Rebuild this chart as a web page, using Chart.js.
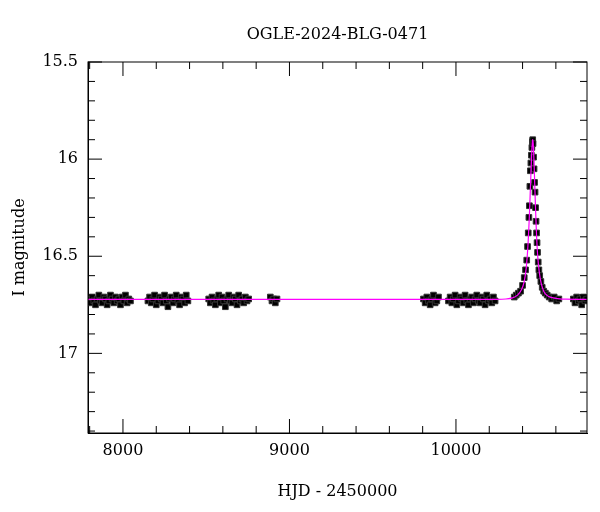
<!DOCTYPE html>
<html>
<head>
<meta charset="utf-8">
<script src="https://cdn.jsdelivr.net/npm/chart.js@4"></script>
<style>
  body { margin: 0; background: #fff; }
  #wrap { width: 600px; height: 512px; }
</style>
</head>
<body>
<div id="wrap"><canvas id="chart"></canvas></div>
<script>
const TITLE = "OGLE-2024-BLG-0471";

// observations: HJD - 2450000 and I magnitude
const obsTime = [
  7795, 7805, 7815, 7825, 7835, 7845, 7855, 7865, 7875, 7885, 7895, 7905, 7915, 7925, 7935, 7945, 7955, 7965, 7975, 7985, 7995, 8005, 8015, 8025, 8035, 8045,
  8150, 8160, 8170, 8180, 8190, 8200, 8210, 8220, 8230, 8240, 8250, 8260, 8270, 8280, 8290, 8300, 8310, 8320, 8330, 8340, 8350, 8360, 8370, 8380, 8390,
  8515, 8525, 8535, 8545, 8555, 8565, 8575, 8585, 8595, 8605, 8615, 8625, 8635, 8645, 8655, 8665, 8675, 8685, 8695, 8705, 8715, 8725, 8735, 8745, 8755,
  8885, 8895, 8905, 8915, 8925,
  9805, 9815, 9825, 9835, 9845, 9855, 9865, 9875, 9885, 9895,
  9955, 9965, 9975, 9985, 9995, 10005, 10015, 10025, 10035, 10045, 10055, 10065, 10075, 10085, 10095, 10105, 10115, 10125, 10135, 10145, 10155, 10165, 10175, 10185, 10195, 10205, 10215, 10225, 10235,
  10350, 10362, 10375, 10388, 10400, 10410, 10418, 10425, 10430, 10434, 10438, 10441, 10444, 10447, 10450, 10453, 10456, 10459, 10461, 10463, 10466, 10469, 10472, 10475, 10478, 10481, 10484, 10487, 10490, 10494, 10498, 10503, 10510, 10518, 10527, 10537, 10548, 10560, 10575, 10590, 10605, 10618,
  10705, 10715, 10725, 10735, 10745, 10755, 10765, 10775, 10785
];
const obsMag = [
  16.72, 16.74, 16.71, 16.73, 16.75, 16.72, 16.70, 16.73, 16.74, 16.71, 16.72, 16.75, 16.73, 16.70, 16.72, 16.74, 16.71, 16.73, 16.72, 16.75, 16.71, 16.73, 16.70, 16.74, 16.72, 16.73,
  16.73, 16.71, 16.74, 16.72, 16.70, 16.75, 16.73, 16.71, 16.72, 16.74, 16.70, 16.73, 16.76, 16.72, 16.71, 16.74, 16.72, 16.70, 16.73, 16.75, 16.71, 16.72, 16.74, 16.70, 16.73,
  16.72, 16.74, 16.71, 16.73, 16.75, 16.72, 16.70, 16.74, 16.71, 16.73, 16.76, 16.72, 16.70, 16.73, 16.74, 16.71, 16.72, 16.75, 16.70, 16.73, 16.72, 16.74, 16.71, 16.73, 16.72,
  16.71, 16.73, 16.72, 16.74, 16.72,
  16.72, 16.74, 16.71, 16.73, 16.75, 16.72, 16.70, 16.74, 16.73, 16.71,
  16.73, 16.71, 16.74, 16.72, 16.70, 16.75, 16.73, 16.71, 16.72, 16.74, 16.70, 16.73, 16.75, 16.72, 16.71, 16.74, 16.72, 16.70, 16.73, 16.74, 16.71, 16.72, 16.75, 16.70, 16.73, 16.72, 16.74, 16.71, 16.73,
  16.71, 16.70, 16.69, 16.68, 16.65, 16.61, 16.57, 16.52, 16.45, 16.38, 16.30, 16.24, 16.14, 16.06, 16.02, 15.98, 15.94, 15.91, 15.90, 15.92, 15.99, 16.05, 16.12, 16.17, 16.25, 16.32, 16.38, 16.43, 16.48, 16.53, 16.57, 16.60, 16.63, 16.66, 16.68, 16.69, 16.70, 16.71, 16.72, 16.71, 16.73, 16.72,
  16.72, 16.74, 16.71, 16.73, 16.72, 16.75, 16.71, 16.73, 16.72
];

// fitted model curve
const modelTime = [7790, 10250, 10300, 10340, 10370, 10395, 10410, 10422, 10432, 10440, 10447, 10453, 10458, 10461, 10464, 10469, 10475, 10482, 10490, 10500, 10512, 10527, 10545, 10570, 10610, 10660, 10787];
const modelMag = [16.722, 16.722, 16.720, 16.714, 16.70, 16.67, 16.63, 16.56, 16.45, 16.31, 16.15, 16.01, 15.92, 15.90, 15.92, 16.02, 16.18, 16.35, 16.49, 16.58, 16.64, 16.68, 16.70, 16.712, 16.718, 16.721, 16.722];

const xMajor = [8000, 9000, 10000];
const yMajor = [15.5, 16, 16.5, 17];

const SERIF = "'DejaVu Serif', 'Liberation Serif', serif";

function onLoad() {
  const ctx = document.getElementById("chart");
  new Chart(ctx, {
    type: "scatter",
    data: {
      datasets: [{
        type: "line",
        data: modelTime.map((t, i) => ({x: t, y: modelMag[i]})),
        borderColor: "#ff00ff",
        borderWidth: 1.2,
        pointRadius: 0,
        tension: 0.3,
        order: 1
      }, {
        data: obsTime.map((t, i) => ({x: t, y: obsMag[i]})),
        pointStyle: "rect",
        pointRadius: 4,
        backgroundColor: "#000",
        borderColor: "#333",
        borderWidth: 1,
        order: 2
      }]
    },
    plugins: [frameTicks],
    options: {
      responsive: false,
      animation: false,
      layout: {padding: {top: 62, right: 13, left: 0, bottom: 0}},
      plugins: {legend: {display: false}, tooltip: {enabled: false}},
      scales: {
        x: {
          type: "linear", min: 7790, max: 10787,
          afterBuildTicks: s => { s.ticks = []; for (let v = 7800; v <= 10787; v += 200) s.ticks.push({value: v}); },
          afterFit: s => { s.height = 79; },
          grid: {display: false, drawTicks: false},
          border: {display: true, color: "#000", width: 1},
          ticks: {
            color: "#000", padding: 8, maxRotation: 0, autoSkip: false,
            font: {family: SERIF, size: 16},
            callback: v => xMajor.includes(v) ? String(v) : ""
          },
          title: {display: true, text: "HJD - 2450000", color: "#000", font: {family: SERIF, size: 16}, padding: {top: 6, bottom: 11}}
        },
        y: {
          type: "linear", reverse: true, min: 15.5, max: 17.41,
          afterBuildTicks: s => { s.ticks = []; for (let k = 0; k <= 19; k++) s.ticks.push({value: Math.round((15.5 + k * 0.1) * 10) / 10}); },
          afterFit: s => { s.width = 88; },
          grid: {display: false, drawTicks: false},
          border: {display: true, color: "#000", width: 1},
          ticks: {
            color: "#000", padding: 10, autoSkip: false,
            font: {family: SERIF, size: 16},
            callback: v => yMajor.includes(v) ? String(v) : ""
          },
          title: {display: true, text: "I magnitude", color: "#000", font: {family: SERIF, size: 16}, padding: {top: 10, bottom: 6}}
        }
      }
    }
  });
}

// inward ticks on all four sides, frame and title
const frameTicks = {
  id: "frameTicks",
  afterDraw(chart) {
    const c = chart.ctx, a = chart.chartArea, sx = chart.scales.x, sy = chart.scales.y;
    c.save();
    c.strokeStyle = "#000";
    c.lineWidth = 1;
    c.strokeRect(a.left, a.top, a.right - a.left, a.bottom - a.top);
    c.beginPath();
    sx.ticks.forEach(t => {
      const px = sx.getPixelForValue(t.value), len = xMajor.includes(t.value) ? 14 : 7;
      c.moveTo(px, a.bottom); c.lineTo(px, a.bottom - len);
      c.moveTo(px, a.top); c.lineTo(px, a.top + len);
    });
    sy.ticks.forEach(t => {
      const py = sy.getPixelForValue(t.value), len = yMajor.includes(t.value) ? 14 : 7;
      c.moveTo(a.left, py); c.lineTo(a.left + len, py);
      c.moveTo(a.right, py); c.lineTo(a.right - len, py);
    });
    c.stroke();
    c.fillStyle = "#000";
    c.font = "16px " + SERIF;
    c.textAlign = "center";
    c.textBaseline = "middle";
    c.fillText(TITLE, (a.left + a.right) / 2, 35);
    c.restore();
  }
};

document.getElementById("chart").width = 600;
document.getElementById("chart").height = 512;
onLoad();
</script>
</body>
</html>
